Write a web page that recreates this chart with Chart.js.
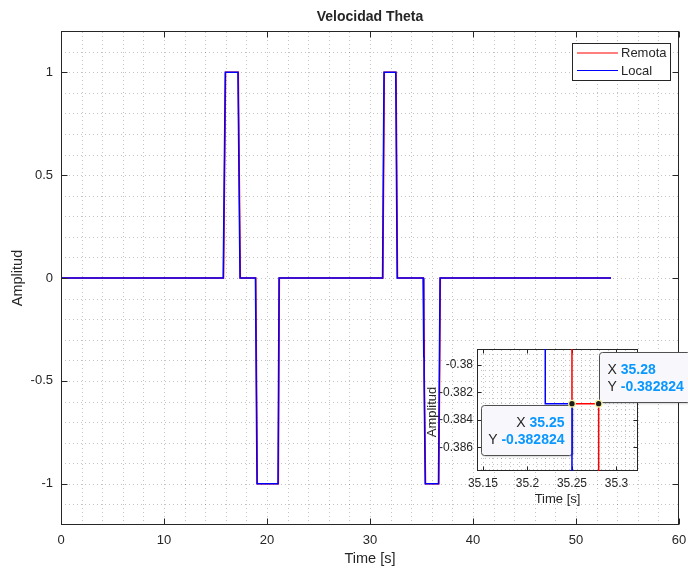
<!DOCTYPE html>
<html>
<head>
<meta charset="utf-8">
<title>Velocidad Theta</title>
<script src="https://cdn.jsdelivr.net/npm/chart.js@4.4.1/dist/chart.umd.min.js"></script>
<style>
  html, body { margin: 0; padding: 0; background: #ffffff; }
  #wrap { position: relative; width: 688px; height: 568px; overflow: hidden; background: #ffffff; }
  #main { position: absolute; left: 0; top: 0; }
  #zoom { position: absolute; left: 400px; top: 340px; }
</style>
</head>
<body>
<div id="wrap">
  <canvas id="main" width="688" height="568"></canvas>
  <canvas id="zoom" width="288" height="190"></canvas>
</div>
<script>
// Theta velocity: local command and remote echo (sampled every 0.03 s)
const localTime   = [0, 15.75, 15.95, 17.18, 17.38, 18.88, 19.03, 21.07, 21.17, 31.22, 31.36, 32.5, 32.64, 35.16, 35.22, 35.22, 35.25, 35.25, 35.36, 36.65, 36.8, 53.4];
const localValue  = [0, 0, 1, 1, 0, 0, -1, -1, 0, 0, 1, 1, 0, 0, -0.3, -0.382824, -0.382824, -0.47, -1, -1, 0, 0];
const remotaTime  = [0, 15.78, 15.98, 17.21, 17.41, 18.91, 19.06, 21.1, 21.2, 31.25, 31.39, 32.53, 32.67, 35.19, 35.25, 35.25, 35.28, 35.28, 35.39, 36.68, 36.83, 53.4];
const remotaValue = [0, 0, 1, 1, 0, 0, -1, -1, 0, 0, 1, 1, 0, 0, -0.3, -0.382824, -0.382824, -0.47, -1, -1, 0, 0];

// axis ticks
const xTickLabels = [0, 10, 20, 30, 40, 50, 60];
const yTickLabels = [-1, -0.5, 0, 0.5, 1];
const zoomXTicks  = [35.15, 35.2, 35.25, 35.3];
const zoomYTicks  = [-0.386, -0.384, -0.382, -0.38];

// data tips on the zoomed view
const tipTime  = [35.25, 35.28];
const tipValue = [-0.382824, -0.382824];

const FONT = '"Liberation Sans", Arial, Helvetica, sans-serif';
const INK = '#262626';
const GRID = 'rgba(38,38,38,0.28)';

const pts = (t, v) => t.map((x, i) => ({ x: x, y: v[i] }));
const px = v => Math.round(v) + 0.5;

function drawGrid(chart, xs, ys) {
  const ctx = chart.ctx, a = chart.chartArea;
  const sx = chart.scales.x, sy = chart.scales.y;
  ctx.save();
  ctx.strokeStyle = GRID;
  ctx.lineWidth = 1;
  ctx.setLineDash([1, 3]);
  xs.forEach(v => {
    const x = px(sx.getPixelForValue(v));
    if (x <= a.left + 1 || x >= a.right - 1) return;
    ctx.beginPath(); ctx.moveTo(x, a.bottom); ctx.lineTo(x, a.top); ctx.stroke();
  });
  ys.forEach(v => {
    const y = px(sy.getPixelForValue(v));
    if (y <= a.top + 1 || y >= a.bottom - 1) return;
    ctx.beginPath(); ctx.moveTo(a.left, y); ctx.lineTo(a.right, y); ctx.stroke();
  });
  ctx.restore();
}

function drawFrame(chart, xt, yt, len) {
  const ctx = chart.ctx, a = chart.chartArea;
  const sx = chart.scales.x, sy = chart.scales.y;
  const l = px(a.left), r = px(a.right) - 1, t = px(a.top), b = px(a.bottom) - 1;
  ctx.save();
  ctx.strokeStyle = INK;
  ctx.lineWidth = 1;
  ctx.setLineDash([]);
  ctx.strokeRect(l, t, r - l, b - t);
  ctx.beginPath();
  xt.forEach(v => {
    const x = px(sx.getPixelForValue(v));
    ctx.moveTo(x, b); ctx.lineTo(x, b - len);
    ctx.moveTo(x, t); ctx.lineTo(x, t + len);
  });
  yt.forEach(v => {
    const y = px(sy.getPixelForValue(v));
    ctx.moveTo(l, y); ctx.lineTo(l + len, y);
    ctx.moveTo(r, y); ctx.lineTo(r - len, y);
  });
  ctx.stroke();
  ctx.restore();
}

function text(ctx, str, x, y, font, rot) {
  ctx.save();
  ctx.translate(x, y);
  if (rot) ctx.rotate(rot);
  ctx.font = font;
  ctx.fillStyle = INK;
  ctx.textAlign = 'center';
  ctx.textBaseline = 'middle';
  ctx.fillText(str, 0, 0);
  ctx.restore();
}

// minor grid positions
const mainGridX = [];
for (let k = 0; k <= 30; k++) mainGridX.push(k * 2);
const mainGridY = [];
for (let k = -12; k <= 12; k++) mainGridY.push(k / 10);
const zoomGridX = [];
for (let k = 3514; k <= 3533; k++) zoomGridX.push(k / 100);
const zoomGridY = [];
for (let k = -970; k <= -946; k++) zoomGridY.push(k * 0.0004);

const mainDecor = {
  id: 'mainDecor',
  beforeDatasetsDraw(chart) {
    const ctx = chart.ctx, a = chart.chartArea;
    ctx.save();
    ctx.fillStyle = '#ffffff';
    ctx.fillRect(a.left, a.top, a.right - a.left, a.bottom - a.top);
    ctx.restore();
    drawGrid(chart, mainGridX, mainGridY);
  },
  afterDatasetsDraw(chart) {
    const ctx = chart.ctx, a = chart.chartArea;
    drawFrame(chart, xTickLabels, yTickLabels, 6);
    const cx = (a.left + a.right) / 2, cy = (a.top + a.bottom) / 2;
    text(ctx, 'Velocidad Theta', cx, 17, 'bold 14px ' + FONT);
    text(ctx, 'Time [s]', cx, 559, '14.5px ' + FONT);
    text(ctx, 'Amplitud', 18, cy, '14.5px ' + FONT, -Math.PI / 2);

    // legend
    const lx = a.right - 9 - 98, ly = a.top + 12, lw = 98, lh = 37;
    ctx.save();
    ctx.fillStyle = '#ffffff';
    ctx.fillRect(px(lx), px(ly), lw, lh);
    ctx.strokeStyle = INK;
    ctx.lineWidth = 1;
    ctx.strokeRect(px(lx), px(ly), lw, lh);
    const rows = [['Remota', '#ff0000'], ['Local', '#0000ff']];
    rows.forEach((row, i) => {
      const y = ly + 10 + i * 17.5;
      ctx.strokeStyle = row[1];
      ctx.lineWidth = 1.2;
      ctx.beginPath(); ctx.moveTo(lx + 5, y); ctx.lineTo(lx + 46, y); ctx.stroke();
      ctx.fillStyle = INK;
      ctx.font = '13px ' + FONT;
      ctx.textAlign = 'left';
      ctx.textBaseline = 'middle';
      ctx.fillText(row[0], lx + 49, y + 0.5);
    });
    ctx.restore();
  }
};

function roundRect(ctx, x, y, w, h, r) {
  ctx.beginPath();
  ctx.moveTo(x + r, y);
  ctx.lineTo(x + w - r, y); ctx.arcTo(x + w, y, x + w, y + r, r);
  ctx.lineTo(x + w, y + h - r); ctx.arcTo(x + w, y + h, x + w - r, y + h, r);
  ctx.lineTo(x + r, y + h); ctx.arcTo(x, y + h, x, y + h - r, r);
  ctx.lineTo(x, y + r); ctx.arcTo(x, y, x + r, y, r);
  ctx.closePath();
}

function tipRow(ctx, x, y, align, label, value) {
  ctx.font = '14px ' + FONT;
  const wl = ctx.measureText(label + ' ').width;
  ctx.font = 'bold 14px ' + FONT;
  const wv = ctx.measureText(value).width;
  const x0 = align === 'right' ? x - wl - wv : x;
  ctx.textAlign = 'left';
  ctx.textBaseline = 'middle';
  ctx.font = '14px ' + FONT;
  ctx.fillStyle = INK;
  ctx.fillText(label + ' ', x0, y);
  ctx.font = 'bold 14px ' + FONT;
  ctx.fillStyle = '#0a97ff';
  ctx.fillText(value, x0 + wl, y);
}

const zoomDecor = {
  id: 'zoomDecor',
  beforeDatasetsDraw(chart) {
    const ctx = chart.ctx, a = chart.chartArea;
    const sx = chart.scales.x, sy = chart.scales.y;
    ctx.save();
    ctx.fillStyle = '#ffffff';
    ctx.fillRect(a.left, a.top, a.right - a.left, a.bottom - a.top);
    ctx.restore();
    drawGrid(chart, zoomGridX, zoomGridY);
    drawFrame(chart, zoomXTicks, zoomYTicks, 4);
    const cx = (a.left + a.right) / 2, cy = (a.top + a.bottom) / 2;
    text(ctx, 'Time [s]', cx, 159, '13px ' + FONT);
    text(ctx, 'Amplitud', 32, cy + 2, '13px ' + FONT, -Math.PI / 2);

    // data tip boxes
    const w = 91, h = 50;
    tipTime.forEach((t, i) => {
      const x = sx.getPixelForValue(t), y = sy.getPixelForValue(tipValue[i]);
      const bx = i === 0 ? Math.round(x) - w + 0.5 : Math.round(x) + 0.5;
      const by = i === 0 ? Math.round(y) + 1.5 : Math.round(y) - h - 1.5;
      ctx.save();
      ctx.shadowColor = 'rgba(0,0,0,0.25)';
      ctx.shadowBlur = 2;
      ctx.shadowOffsetX = 1;
      ctx.shadowOffsetY = 1;
      roundRect(ctx, bx, by, w, h, 3);
      ctx.fillStyle = '#f8f8fc';
      ctx.fill();
      ctx.shadowColor = 'transparent';
      ctx.strokeStyle = '#505050';
      ctx.lineWidth = 1;
      ctx.stroke();
      const align = i === 0 ? 'right' : 'left';
      const tx = i === 0 ? bx + w - 8 : bx + 8;
      tipRow(ctx, tx, by + 18, align, 'X', String(t));
      tipRow(ctx, tx, by + 35, align, 'Y', String(tipValue[i]));
      ctx.restore();
    });
  }
};

const lineStyle = (color) => ({
  borderColor: color, backgroundColor: color, borderWidth: 1.5,
  showLine: true, pointRadius: 0, pointHoverRadius: 0, fill: false,
  clip: { left: 0, top: 0, right: 0, bottom: 0 }
});

const tickFont = (size) => ({ family: FONT, size: size });
const noGrid = { display: false, drawTicks: false, tickLength: 0 };
// keep the plot box fixed: no extra room reserved for edge labels
const fixX = h => s => { s.height = h; s.paddingLeft = 0; s.paddingRight = 0; };
const fixY = w => s => { s.width = w; s.paddingTop = 0; s.paddingBottom = 0; };

new Chart(document.getElementById('main'), {
  type: 'scatter',
  data: {
    datasets: [
      Object.assign({ label: 'Local', data: pts(localTime, localValue) }, lineStyle('#0000ff')),
      Object.assign({ label: 'Remota', data: pts(remotaTime, remotaValue) }, lineStyle('#ff0000'))
    ]
  },
  options: {
    responsive: false, animation: false, events: [],
    layout: { padding: { left: 0, right: 9, top: 31, bottom: 0 } },
    plugins: { legend: { display: false }, title: { display: false }, tooltip: { enabled: false } },
    scales: {
      x: {
        type: 'linear', min: 0, max: 60,
        afterBuildTicks: s => { s.ticks = xTickLabels.map(v => ({ value: v })); },
        afterFit: fixX(43),
        grid: noGrid, border: { display: false },
        ticks: { autoSkip: false, maxRotation: 0, padding: 8, color: INK, font: tickFont(13), callback: v => String(v) }
      },
      y: {
        type: 'linear', min: -1.2, max: 1.2,
        afterBuildTicks: s => { s.ticks = yTickLabels.map(v => ({ value: v })); },
        afterFit: fixY(61),
        grid: noGrid, border: { display: false },
        ticks: { autoSkip: false, padding: 8, color: INK, font: tickFont(13), callback: v => String(v) }
      }
    }
  },
  plugins: [mainDecor]
});

new Chart(document.getElementById('zoom'), {
  type: 'scatter',
  data: {
    datasets: [
      {
        label: 'tips', data: pts(tipTime, tipValue), showLine: false,
        pointRadius: 3.3, pointHoverRadius: 3.3, pointBackgroundColor: '#1c1c1c',
        pointBorderColor: '#f4f0a0', pointBorderWidth: 1.3
      },
      Object.assign({ label: 'Local', data: pts(localTime, localValue) }, lineStyle('#0000ff')),
      Object.assign({ label: 'Remota', data: pts(remotaTime, remotaValue) }, lineStyle('#ff0000'))
    ]
  },
  options: {
    responsive: false, animation: false, events: [],
    layout: { padding: { left: 0, right: 50, top: 9, bottom: 0 } },
    plugins: { legend: { display: false }, title: { display: false }, tooltip: { enabled: false } },
    scales: {
      x: {
        type: 'linear', min: 35.1433, max: 35.3242,
        afterBuildTicks: s => { s.ticks = zoomXTicks.map(v => ({ value: v })); },
        afterFit: fixX(59),
        grid: noGrid, border: { display: false },
        ticks: { autoSkip: false, maxRotation: 0, padding: 5, color: INK, font: tickFont(12), callback: v => String(v) }
      },
      y: {
        type: 'linear', min: -0.387737, max: -0.378832,
        afterBuildTicks: s => { s.ticks = zoomYTicks.map(v => ({ value: v })); },
        afterFit: fixY(77),
        grid: noGrid, border: { display: false },
        ticks: { autoSkip: false, padding: 4, color: INK, font: tickFont(12), callback: v => String(v) }
      }
    }
  },
  plugins: [zoomDecor]
});
</script>
</body>
</html>
